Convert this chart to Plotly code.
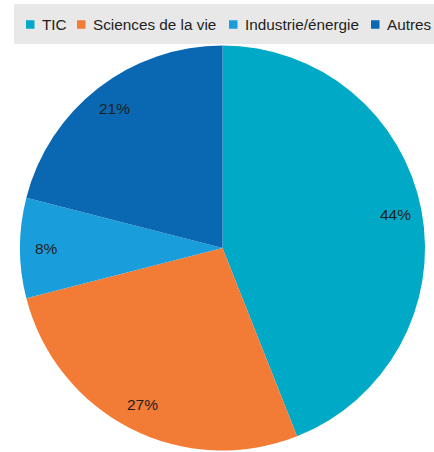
import math
import plotly.graph_objects as go

categories = ["TIC", "Sciences de la vie", "Industrie/énergie", "Autres"]
shares = [44, 27, 8, 21]
colors = ["#00AAC6", "#F27B36", "#1A9EDB", "#0A67B1"]

W, H = 434, 452
FONT = "Liberation Sans, Arial, Helvetica, sans-serif"
TEXT_COLOR = "#231F20"

# pie geometry in pixels
CX, CY, R = 222.5, 248.0, 202.5
LABEL_RADIUS = 0.87  # fraction of the radius where the percentage sits

# legend layout: left edge of each swatch (pixels), swatch size, gap to text
LEGEND_X = [26, 77, 229, 371]
SWATCH = 8.5
TEXT_GAP = 5.0
LEGEND_Y = 24.5


def px(x):
    return x / W


def py(y):
    return 1 - y / H


fig = go.Figure(
    go.Pie(
        labels=categories,
        values=shares,
        sort=False,
        direction="clockwise",
        rotation=0,
        marker=dict(colors=colors, line=dict(width=0)),
        textinfo="none",
        domain=dict(x=[px(CX - R), px(CX + R)], y=[py(CY + R), py(CY - R)]),
        hoverinfo="label+percent",
        showlegend=False,
    )
)

shapes = [
    dict(
        type="rect", xref="paper", yref="paper",
        x0=px(14), x1=1, y0=py(44), y1=py(4),
        fillcolor="#E8E8E9", line=dict(width=0), layer="below",
    )
]
annotations = []

# legend swatches and names
for name, color, x in zip(categories, colors, LEGEND_X):
    shapes.append(dict(
        type="rect", xref="paper", yref="paper",
        x0=px(x), x1=px(x + SWATCH),
        y0=py(LEGEND_Y + SWATCH / 2), y1=py(LEGEND_Y - SWATCH / 2),
        fillcolor=color, line=dict(width=0),
    ))
    annotations.append(dict(
        text=name, xref="paper", yref="paper",
        x=px(x + SWATCH + TEXT_GAP), y=py(LEGEND_Y),
        xanchor="left", yanchor="middle", showarrow=False,
        font=dict(family=FONT, size=15.3, color=TEXT_COLOR),
    ))

# percentage labels placed at the middle angle of each slice
total = sum(shares)
start = 0.0
for v in shares:
    mid = (start + v / 2) / total * 2 * math.pi
    start += v
    r = R * LABEL_RADIUS
    annotations.append(dict(
        text=f"{v}%", xref="paper", yref="paper",
        x=px(CX + r * math.sin(mid)), y=py(CY - r * math.cos(mid)),
        xanchor="center", yanchor="middle", showarrow=False,
        font=dict(family=FONT, size=15.5, color=TEXT_COLOR),
    ))

fig.update_layout(
    width=W,
    height=H,
    margin=dict(l=0, r=0, t=0, b=0),
    paper_bgcolor="white",
    showlegend=False,
    shapes=shapes,
    annotations=annotations,
)

fig.write_html("out.html")
